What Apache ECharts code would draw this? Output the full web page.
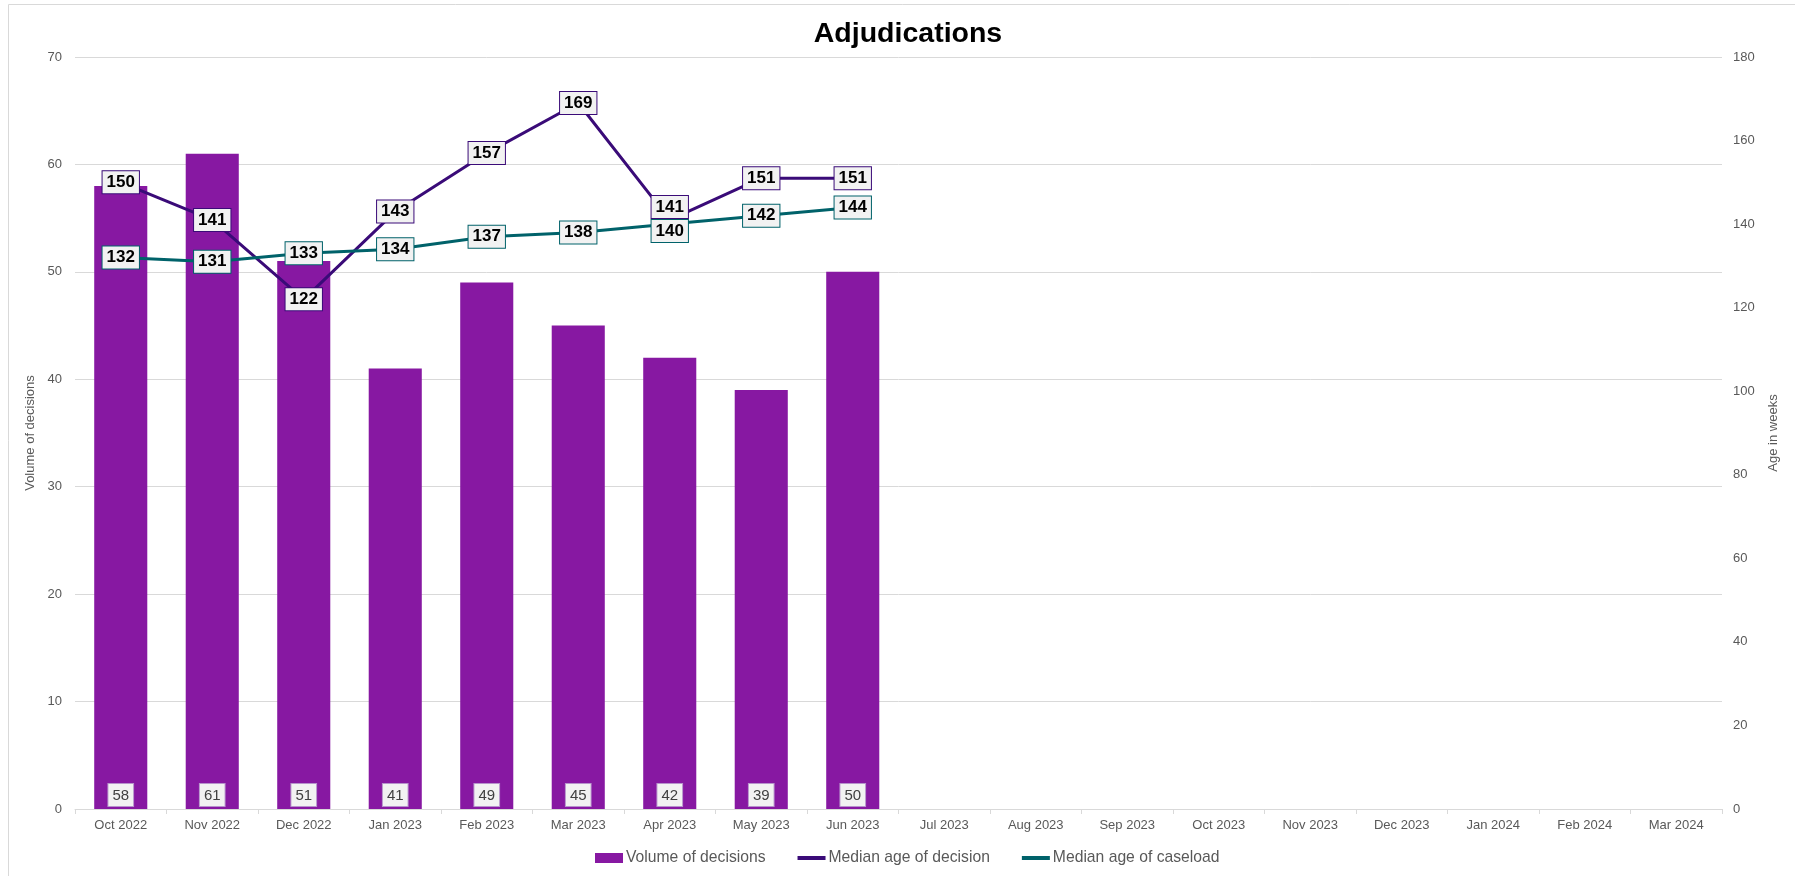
<!DOCTYPE html>
<html>
<head>
<meta charset="utf-8">
<script src="https://cdn.jsdelivr.net/npm/echarts@6/dist/echarts.min.js"></script>
<style>
html,body{margin:0;padding:0;background:#fff;}
#chart{width:1795px;height:876px;}
</style>
</head>
<body>
<div id="chart"></div>
<script>
const categories = ['Oct 2022','Nov 2022','Dec 2022','Jan 2023','Feb 2023','Mar 2023','Apr 2023','May 2023','Jun 2023','Jul 2023','Aug 2023','Sep 2023','Oct 2023','Nov 2023','Dec 2023','Jan 2024','Feb 2024','Mar 2024'];
const volumeOfDecisions = [58,61,51,41,49,45,42,39,50];
const medianAgeOfDecision = [150,141,122,143,157,169,141,151,151];
const medianAgeOfCaseload = [132,131,133,134,137,138,140,142,144];

const FONT = '"Liberation Sans", Arial, sans-serif';
const BAR = '#8718A2';
const DEC = '#3A0B78';
const CASE = '#00626A';

// label nudges where the two line labels collide (style only)
function withNudge(values, nudges) {
  return values.map((v, i) => nudges[i] !== undefined ? {value: v, label: {offset: [0, nudges[i]]}} : v);
}

const lineLabel = (border) => ({
  show: true, position: 'inside',
  color: '#000', fontSize: 17, fontWeight: 'bold', fontFamily: FONT,
  backgroundColor: '#F2F2F2', borderColor: border, borderWidth: 1,
  padding: [3, 4, 2, 4]
});

const chart = echarts.init(document.getElementById('chart'));
chart.setOption({
  animation: false,
  textStyle: {fontFamily: FONT},
  graphic: [{
    type: 'rect', shape: {x: 8.5, y: 4.5, width: 1800, height: 900},
    style: {fill: 'none', stroke: '#d9d9d9', lineWidth: 1}, silent: true, z: -1
  }],
  title: {
    text: 'Adjudications', left: 903, top: 15, textAlign: 'center',
    textStyle: {fontFamily: FONT, fontSize: 28.5, fontWeight: 'bold', color: '#000'}
  },
  legend: {
    bottom: 5, left: 590, itemGap: 32, itemWidth: 28, itemHeight: 10,
    symbolKeepAspect: true,
    textStyle: {fontFamily: FONT, fontSize: 15.7, color: '#595959', padding: [0, 0, 0, -2]},
    data: [
      {name: 'Volume of decisions', icon: 'rect'},
      {name: 'Median age of decision', icon: 'path://M0,0H28V4H0Z'},
      {name: 'Median age of caseload', icon: 'path://M0,0H28V4H0Z'}
    ]
  },
  grid: {left: 75, right: 73, top: 57, bottom: 67},
  xAxis: {
    type: 'category', data: categories, boundaryGap: true,
    axisLine: {lineStyle: {color: '#d9d9d9'}},
    axisTick: {show: true, alignWithLabel: false, length: 5, lineStyle: {color: '#d9d9d9'}},
    axisLabel: {color: '#595959', fontSize: 13, margin: 10, interval: 0}
  },
  yAxis: [{
    type: 'value', min: 0, max: 70, interval: 10,
    name: 'Volume of decisions', nameLocation: 'middle', nameGap: 36, nameRotate: 90,
    nameTextStyle: {color: '#595959', fontSize: 13},
    axisLabel: {color: '#595959', fontSize: 13, margin: 13},
    axisLine: {show: false}, axisTick: {show: false},
    splitLine: {lineStyle: {color: '#d9d9d9'}}
  }, {
    type: 'value', min: 0, max: 180, interval: 20,
    name: 'Age in weeks', nameLocation: 'middle', nameGap: 45, nameRotate: 90,
    nameTextStyle: {color: '#595959', fontSize: 13},
    axisLabel: {color: '#595959', fontSize: 13, margin: 11},
    axisLine: {show: false}, axisTick: {show: false},
    splitLine: {show: false}
  }],
  series: [{
    name: 'Volume of decisions', type: 'bar', yAxisIndex: 0,
    data: volumeOfDecisions, barWidth: '58%',
    itemStyle: {color: BAR},
    label: {
      show: true, position: 'insideBottom', distance: 3,
      color: '#404040', fontSize: 15, fontFamily: FONT,
      backgroundColor: '#F2F2F2', borderColor: '#B793CC', borderWidth: 1,
      padding: [4, 4, 3, 4]
    }
  }, {
    name: 'Median age of decision', type: 'line', yAxisIndex: 1,
    data: withNudge(medianAgeOfDecision, {6: -13}),
    symbol: 'circle', symbolSize: 2, showSymbol: true,
    lineStyle: {color: DEC, width: 3}, itemStyle: {color: DEC},
    label: lineLabel(DEC),
    z: 3
  }, {
    name: 'Median age of caseload', type: 'line', yAxisIndex: 1,
    data: withNudge(medianAgeOfCaseload, {6: 7}),
    symbol: 'circle', symbolSize: 2, showSymbol: true,
    lineStyle: {color: CASE, width: 3}, itemStyle: {color: CASE},
    label: lineLabel(CASE),
    z: 3
  }]
});
</script>
</body>
</html>
